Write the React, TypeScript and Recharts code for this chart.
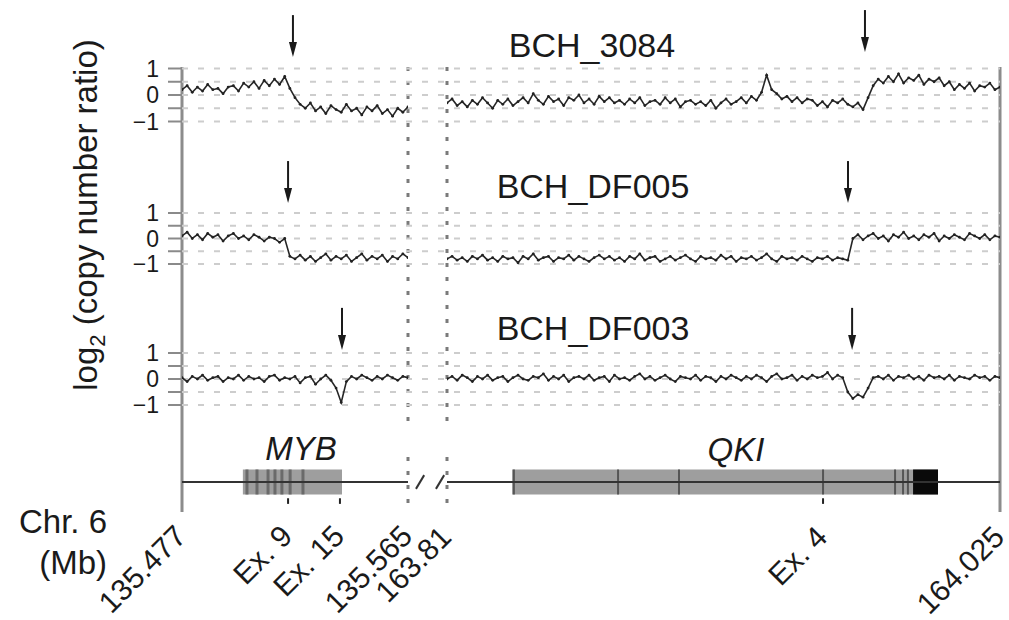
import { ComposedChart, Line, XAxis, YAxis, CartesianGrid, ReferenceLine, ReferenceArea, ReferenceDot } from 'recharts';

// genomic windows (Mb) on chr. 6, either side of the axis break
const segL = [135.477, 135.565];
const segR = [163.81, 164.025];

// log2 copy number ratio, probes read left to right
const p1Left = [0.2, 0.35, 0.1, 0.3, 0.15, 0.4, 0.2, 0.25, 0.05, 0.3, 0.35, 0.15, 0.45, 0.3, 0.5, 0.25, 0.55, 0.35, 0.6, 0.4, 0.7, 0.25, -0.1, -0.35, -0.5, -0.3, -0.6, -0.45, -0.7, -0.4, -0.55, -0.65, -0.35, -0.6, -0.5, -0.75, -0.45, -0.6, -0.4, -0.7, -0.55, -0.8, -0.5, -0.65, -0.45];
const p1Right = [
  -0.3, -0.15, -0.4, -0.25, -0.45, -0.2, -0.35, -0.1, -0.3, -0.5, -0.2, -0.35, -0.15, -0.4, -0.25,
  -0.1, -0.3, 0.05, -0.2, -0.35, -0.05, -0.25, -0.15, -0.4, -0.1, -0.2, 0.0, -0.3, -0.15, -0.35, -0.05, -0.25, -0.1, -0.3, -0.2,
  -0.35, -0.15, -0.3, -0.1, -0.4, -0.25, -0.2, -0.35, -0.1, -0.3, -0.15, -0.45, -0.25, -0.2, -0.35,
  -0.25, -0.4, -0.2, -0.5, -0.3, -0.15, -0.35, -0.25, -0.1, -0.3, -0.05, -0.2,
  0.1, 0.75, 0.2, 0.05,
  -0.15, -0.05, -0.25, -0.1, -0.3, -0.15, -0.2, -0.4, -0.25, -0.45, -0.2, -0.3, -0.15, -0.35, -0.45, -0.3,
  -0.55, -0.1, 0.35, 0.6, 0.45,
  0.7, 0.5, 0.8, 0.45, 0.65, 0.55, 0.75, 0.4, 0.6, 0.5, 0.65,
  0.35, 0.5, 0.2, 0.4, 0.25, 0.45, 0.15, 0.35, 0.3, 0.45, 0.2, 0.3,
];
const p2Left = [0.1, 0.25, 0.0, 0.15, -0.05, 0.2, 0.05, 0.15, -0.1, 0.1, 0.2, 0.0, 0.1, -0.05, 0.15, 0.05, -0.1, 0.05, 0.0, -0.15, 0.0, -0.7, -0.8, -0.65, -0.85, -0.7, -0.9, -0.75, -0.6, -0.85, -0.7, -0.8, -0.65, -0.9, -0.75, -0.6, -0.85, -0.7, -0.8, -0.65, -0.9, -0.7, -0.8, -0.6, -0.75];
const p2Right = [
  -0.8, -0.7, -0.85, -0.75, -0.9, -0.7, -0.8, -0.65, -0.85, -0.75,
  -0.9, -0.7, -0.8, -0.75, -0.95, -0.7, -0.8, -0.6, -0.85, -0.75,
  -0.7, -0.9, -0.75, -0.8, -0.65, -0.85, -0.7, -0.8, -0.9, -0.75,
  -0.65, -0.8, -0.7, -0.85, -0.75, -0.9, -0.7, -0.8, -0.6, -0.85,
  -0.75, -0.7, -0.9, -0.8, -0.7, -0.85, -0.75, -0.65, -0.8, -0.9,
  -0.7, -0.8, -0.75, -0.85, -0.65, -0.8, -0.7, -0.9, -0.75, -0.8,
  -0.7, -0.85, -0.75, -0.6, -0.8, -0.9, -0.7, -0.8, -0.75, -0.85,
  -0.7, -0.8, -0.9, -0.75, -0.8, -0.7, -0.85, -0.75, -0.8, -0.85,
  0.0, 0.15, -0.05, 0.1, 0.2, 0.0, 0.1, -0.1, 0.15, 0.05, 0.25, 0.0, 0.1, -0.05, 0.15,
  0.05, 0.2, -0.1, 0.1, 0.0, 0.15, 0.05, -0.05, 0.2, 0.1, 0.0, 0.15, -0.05, 0.1, 0.05,
];
const p3Left = [0.05, -0.1, 0.1, 0.0, 0.15, -0.05, 0.05, 0.1, -0.1, 0.05, 0.0, 0.15, -0.05, 0.1, 0.0, 0.05, -0.1, 0.1, 0.15, -0.05, 0.05, 0.0, 0.1, -0.15, 0.05, 0.1, -0.2, 0.0, 0.15, -0.05, -0.35, -0.9, -0.1, 0.1, 0.0, 0.15, 0.05, -0.05, 0.1, 0.0, 0.15, 0.05, -0.05, 0.1, 0.05];
const p3Right = [
  0.0, 0.1, -0.05, 0.15, 0.05, -0.1, 0.1, 0.0, 0.15, -0.05,
  0.05, 0.1, -0.1, 0.05, 0.15, 0.0, -0.05, 0.1, 0.05, 0.2,
  -0.05, 0.1, 0.0, 0.15, -0.1, 0.05, 0.1, 0.0, 0.15, -0.05,
  0.05, 0.1, -0.1, 0.15, 0.0, 0.05, -0.05, 0.1, 0.2, 0.0,
  0.1, -0.05, 0.05, 0.15, 0.0, -0.1, 0.1, 0.05, 0.0, 0.15,
  -0.05, 0.1, 0.05, -0.1, 0.1, 0.0, 0.15, 0.05, -0.05, 0.1,
  0.0, 0.15, 0.05, -0.1, 0.1, 0.2, 0.0, 0.05, 0.15, -0.05,
  0.1, 0.0, 0.15, 0.05, 0.1, 0.25, 0.0, 0.15, 0.05,
  -0.5, -0.75, -0.6, -0.7, -0.35, 0.05,
  0.1, 0.0, 0.15, -0.05, 0.1, 0.05, 0.15, 0.0, 0.1, -0.05, 0.15, 0.05, 0.1,
  0.0, 0.15, -0.05, 0.1, 0.05, 0.0, 0.15, 0.05, 0.1, -0.05, 0.1, 0.05,
];

const sampleNames = ['BCH_3084', 'BCH_DF005', 'BCH_DF003'];
const ratioTicks = [1, 0.5, 0, -0.5, -1];

// breakpoint arrows: position (Mb) and the ratio level of the arrow tip
const arrows1 = [{ axis: 'L', pos: 135.5202, tip: 1.43 }, { axis: 'R', pos: 163.9725, tip: 1.62 }];
const arrows2 = [{ axis: 'L', pos: 135.5183, tip: 1.39 }, { axis: 'R', pos: 163.9659, tip: 1.39 }];
const arrows3 = [{ axis: 'L', pos: 135.5393, tip: 1.12 }, { axis: 'R', pos: 163.9675, tip: 1.12 }];

// gene models
const mybSpan = [135.5007, 135.5393];
const mybExons = [135.5023, 135.5062, 135.5105, 135.5132, 135.5159, 135.5191, 135.5241];
const qkiSpan = [163.8353, 164.0009];
const qkiExons = [163.836, 163.8765, 163.9002, 163.9562, 163.9842, 163.9873, 163.9892];
const qkiUtr = [163.9912, 164.0009];
const breakL = 135.5697;
const breakR = 163.8073;

const ticksL = [135.477, 135.5183, 135.5385, 135.565];
const labelsL = ['135.477', 'Ex. 9', 'Ex. 15', '135.565'];
const ticksR = [163.81, 163.9562, 164.025];
const labelsR = ['163.81', 'Ex. 4', '164.025'];
const exMarksL = [135.5183, 135.5385];
const exMarksR = [163.9562];

const W = 1009;
const plotLeft = 182;
const plotRight = 1000;
const padL = { left: 0, right: plotRight - 408 };
const padR = { left: 447 - plotLeft, right: 0 };
const FONT = '"Liberation Sans", Arial, Helvetica, sans-serif';

const panelLayout = [
  { top: 0, height: 150, y1: 68.5, ym1: 121.5 },
  { top: 150, height: 140, y1: 213, ym1: 264 },
  { top: 290, height: 140, y1: 353, ym1: 405 },
];

const rows = (vals: number[], seg: number[]) =>
  vals.map((v, i) => ({ pos: seg[0] + (i * (seg[1] - seg[0])) / (vals.length - 1), v }));

const panels = [
  { name: sampleNames[0], left: rows(p1Left, segL), right: rows(p1Right, segR), arrows: arrows1 },
  { name: sampleNames[1], left: rows(p2Left, segL), right: rows(p2Right, segR), arrows: arrows2 },
  { name: sampleNames[2], left: rows(p3Left, segL), right: rows(p3Right, segR), arrows: arrows3 },
];

const ratioLabel = (v: number) => (v === 1 ? '1' : v === 0 ? '0' : v === -1 ? '\u22121' : '');

function RatioTick(props: any) {
  const { x, y, payload } = props;
  const label = ratioLabel(payload.value);
  if (!label) return <g />;
  return (
    <text x={x} y={y} dy="0.36em" textAnchor="end" fontSize={23} fill="#1a1a1a" fontFamily={FONT}>
      {label}
    </text>
  );
}

function Arrow(props: any) {
  const { cx, cy } = props;
  if (cx == null || cy == null) return null;
  return (
    <g>
      <line x1={cx} y1={cy - 42} x2={cx} y2={cy - 10} stroke="#1a1a1a" strokeWidth={2} />
      <path d={`M${cx - 4},${cy - 15} L${cx + 4},${cy - 15} L${cx},${cy} Z`} fill="#1a1a1a" />
    </g>
  );
}

function Panel({ idx }: { idx: number }) {
  const lay = panelLayout[idx];
  const p = panels[idx];
  const u = (lay.ym1 - lay.y1) / 2;
  const yMax = 1 + (lay.y1 - lay.top) / u;
  const yMin = -1 - (lay.top + lay.height - lay.ym1) / u;
  const gridRows = (gp: any) => {
    const s = gp?.yAxis?.scale;
    if (typeof s === 'function') return ratioTicks.map((t) => s(t));
    const off = gp.offset;
    return ratioTicks.map((t) => off.top + ((yMax - t) / (yMax - yMin)) * off.height);
  };
  return (
    <div style={{ position: 'absolute', left: 0, top: lay.top }}>
      <ComposedChart width={W} height={lay.height} margin={{ top: 0, bottom: 0, left: plotLeft - 60, right: W - plotRight }}>
        <XAxis xAxisId="L" type="number" dataKey="pos" domain={segL} allowDataOverflow hide padding={padL} />
        <XAxis xAxisId="R" type="number" dataKey="pos" domain={segR} allowDataOverflow hide padding={padR} />
        <YAxis
          yAxisId="v"
          type="number"
          domain={[yMin, yMax]}
          allowDataOverflow
          ticks={ratioTicks}
          interval={0}
          width={60}
          tickSize={14}
          tickMargin={9}
          axisLine={false}
          tickLine={{ stroke: '#8a8a8a', strokeWidth: 2 }}
          tick={RatioTick}
        />
        <CartesianGrid
          xAxisId="L"
          yAxisId="v"
          vertical={false}
          horizontalCoordinatesGenerator={gridRows}
          stroke="#cdcdcd"
          strokeWidth={2}
          strokeDasharray="6 10"
        />
        <Line xAxisId="L" yAxisId="v" data={p.left} dataKey="v" type="linear" stroke="#262626" strokeWidth={1.6}
          dot={{ r: 1.4, fill: '#222', stroke: 'none' }} isAnimationActive={false} />
        <Line xAxisId="R" yAxisId="v" data={p.right} dataKey="v" type="linear" stroke="#262626" strokeWidth={1.6}
          dot={{ r: 1.4, fill: '#222', stroke: 'none' }} isAnimationActive={false} />
        {p.arrows.map((a, i) => (
          <ReferenceDot key={i} xAxisId={a.axis} yAxisId="v" x={a.pos} y={a.tip} shape={Arrow} />
        ))}
      </ComposedChart>
    </div>
  );
}

function RotTick(props: any) {
  const { x, y, index, labels } = props;
  const tx = x + 6;
  const ty = y + 26;
  return (
    <text x={tx} y={ty} transform={`rotate(-45 ${tx} ${ty})`} textAnchor="end" fontSize={30} fill="#1a1a1a" fontFamily={FONT}>
      {labels[index]}
    </text>
  );
}

// gene track geometry: backbone at y=482, boxes +/-12.5 px
const geneUnit = 12.5;
const geneDomain = [-(512 - 482) / geneUnit, (482 - 67) / geneUnit];

const backboneL = [{ pos: segL[0], g: 0 }, { pos: breakL, g: 0 }];
const backboneR = [{ pos: breakR, g: 0 }, { pos: segR[1], g: 0 }];

function Frame() {
  const dotted = { stroke: '#7a7a7a', strokeWidth: 3, strokeDasharray: '4 10' };
  const slash = 0.0016;
  return (
    <div style={{ position: 'absolute', left: 0, top: 0 }}>
      <ComposedChart width={W} height={620} margin={{ top: 67, bottom: 106, left: plotLeft, right: W - plotRight }}>
        <XAxis xAxisId="L" type="number" dataKey="pos" domain={segL} allowDataOverflow padding={padL}
          ticks={ticksL} interval={0} height={1} axisLine={false} tickLine={false} tickSize={0} tickMargin={0}
          tick={(tp: any) => <RotTick {...tp} labels={labelsL} />} />
        <XAxis xAxisId="R" type="number" dataKey="pos" domain={segR} allowDataOverflow padding={padR}
          ticks={ticksR} interval={0} height={1} axisLine={false} tickLine={false} tickSize={0} tickMargin={0}
          tick={(tp: any) => <RotTick {...tp} labels={labelsR} />} />
        <YAxis yAxisId="g" type="number" domain={geneDomain} allowDataOverflow hide />

        <ReferenceLine xAxisId="L" yAxisId="g" x={segL[0]} stroke="#8c8c8c" strokeWidth={3} />
        <ReferenceLine xAxisId="R" yAxisId="g" x={segR[1]} stroke="#8c8c8c" strokeWidth={3} />
        <ReferenceLine xAxisId="L" yAxisId="g" ifOverflow="visible" segment={[{ x: segL[1], y: geneDomain[1] }, { x: segL[1], y: 4.6 }]} {...dotted} />
        <ReferenceLine xAxisId="L" yAxisId="g" ifOverflow="visible" segment={[{ x: segL[1], y: 2 }, { x: segL[1], y: -1.9 }]} {...dotted} />
        <ReferenceLine xAxisId="R" yAxisId="g" ifOverflow="visible" segment={[{ x: segR[0], y: geneDomain[1] }, { x: segR[0], y: 4.6 }]} {...dotted} />
        <ReferenceLine xAxisId="R" yAxisId="g" ifOverflow="visible" segment={[{ x: segR[0], y: 2 }, { x: segR[0], y: -1.9 }]} {...dotted} />

        <Line xAxisId="L" yAxisId="g" data={backboneL} dataKey="g" stroke="#333" strokeWidth={2} dot={false} isAnimationActive={false} />
        <Line xAxisId="R" yAxisId="g" data={backboneR} dataKey="g" stroke="#333" strokeWidth={2} dot={false} isAnimationActive={false} />
        <ReferenceLine xAxisId="L" yAxisId="g" ifOverflow="visible" segment={[{ x: breakL - slash, y: -0.55 }, { x: breakL + slash, y: 0.55 }]} stroke="#333" strokeWidth={2} />
        <ReferenceLine xAxisId="R" yAxisId="g" ifOverflow="visible" segment={[{ x: breakR - slash, y: -0.55 }, { x: breakR + slash, y: 0.55 }]} stroke="#333" strokeWidth={2} />

        <ReferenceArea xAxisId="L" yAxisId="g" x1={mybSpan[0]} x2={mybSpan[1]} y1={-1} y2={1} fill="#9e9e9e" fillOpacity={1} stroke="none" />
        {mybExons.map((e, i) => (
          <ReferenceLine key={'m' + i} xAxisId="L" yAxisId="g" segment={[{ x: e, y: -1 }, { x: e, y: 1 }]} stroke="#6a6a6a" strokeWidth={3} />
        ))}
        <ReferenceArea xAxisId="R" yAxisId="g" x1={qkiSpan[0]} x2={qkiSpan[1]} y1={-1} y2={1} fill="#9e9e9e" fillOpacity={1} stroke="none" />
        {qkiExons.map((e, i) => (
          <ReferenceLine key={'q' + i} xAxisId="R" yAxisId="g" segment={[{ x: e, y: -1 }, { x: e, y: 1 }]} stroke="#555" strokeWidth={2} />
        ))}
        <ReferenceArea xAxisId="R" yAxisId="g" x1={qkiUtr[0]} x2={qkiUtr[1]} y1={-1} y2={1} fill="#0a0a0a" fillOpacity={1} stroke="none" />
        <ReferenceLine xAxisId="L" yAxisId="g" ifOverflow="visible" segment={[{ x: mybSpan[0], y: 0 }, { x: mybSpan[1], y: 0 }]} stroke="#333" strokeWidth={2} />
        <ReferenceLine xAxisId="R" yAxisId="g" ifOverflow="visible" segment={[{ x: qkiSpan[0], y: 0 }, { x: qkiSpan[1], y: 0 }]} stroke="#333" strokeWidth={2} />

        {exMarksL.map((e, i) => (
          <ReferenceLine key={'el' + i} xAxisId="L" yAxisId="g" ifOverflow="visible" segment={[{ x: e, y: -1.3 }, { x: e, y: -1.75 }]} stroke="#222" strokeWidth={2} />
        ))}
        {exMarksR.map((e, i) => (
          <ReferenceLine key={'er' + i} xAxisId="R" yAxisId="g" ifOverflow="visible" segment={[{ x: e, y: -1.3 }, { x: e, y: -1.75 }]} stroke="#222" strokeWidth={2} />
        ))}
      </ComposedChart>
    </div>
  );
}

export default function App() {
  return (
    <div style={{ position: 'absolute', left: 0, top: 0, width: W, height: 620, background: '#fff', fontFamily: FONT }}>
      <Frame />
      <Panel idx={0} />
      <Panel idx={1} />
      <Panel idx={2} />
      <svg width={W} height={620} style={{ position: 'absolute', left: 0, top: 0, pointerEvents: 'none' }} fontFamily={FONT}>
        <text x={592} y={57} textAnchor="middle" fontSize={34} fill="#1a1a1a">{panels[0].name}</text>
        <text x={593} y={198} textAnchor="middle" fontSize={34} fill="#1a1a1a">{panels[1].name}</text>
        <text x={593} y={340} textAnchor="middle" fontSize={34} fill="#1a1a1a">{panels[2].name}</text>
        <text x={97} y={215} transform="rotate(-90 97 215)" textAnchor="middle" fontSize={33} fill="#1a1a1a">
          log<tspan fontSize={22} dy={8}>2</tspan>
          <tspan dy={-8}>{'\u00a0(copy number ratio)'}</tspan>
        </text>
        <text x={301} y={460} textAnchor="middle" fontSize={33} fontStyle="italic" fill="#1a1a1a">MYB</text>
        <text x={736} y={461} textAnchor="middle" fontSize={33} fontStyle="italic" fill="#1a1a1a">QKI</text>
        <text x={107} y={533} textAnchor="end" fontSize={33} fill="#1a1a1a">Chr. 6</text>
        <text x={107} y={574} textAnchor="end" fontSize={33} fill="#1a1a1a">(Mb)</text>
      </svg>
    </div>
  );
}
